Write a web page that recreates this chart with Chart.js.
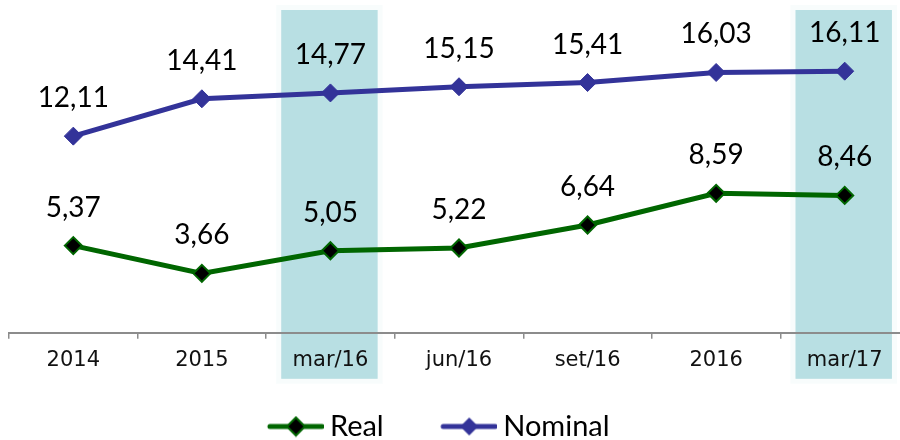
<!DOCTYPE html>
<html>
<head>
<meta charset="utf-8">
<script src="https://cdn.jsdelivr.net/npm/chart.js@4.4.1/dist/chart.umd.min.js"></script>
<style>
  html, body { margin: 0; padding: 0; background: #fff; overflow: hidden; width: 900px; height: 440px; }
  canvas { display: block; }
</style>
</head>
<body>
<canvas id="rateChart" width="912" height="451"></canvas>
<script>
// Chart data
const categories = ['2014', '2015', 'mar/16', 'jun/16', 'set/16', '2016', 'mar/17'];
const realValues = [5.37, 3.66, 5.05, 5.22, 6.64, 8.59, 8.46];
const nominalValues = [12.11, 14.41, 14.77, 15.15, 15.41, 16.03, 16.11];
const highlighted = ['mar/16', 'mar/17'];

const GREEN = '#006600';
const BLUE = '#333399';
const BAND = '#b8dfe3';

// legend icon: line with a diamond, drawn on a small canvas
function makeIcon(lineColor, fill, border) {
    const c = document.createElement('canvas');
    c.width = 92;
    c.height = 22;
    const g = c.getContext('2d');
    const x0 = c.width - 56, cx = c.width - 28, cy = 11;
    g.strokeStyle = lineColor;
    g.lineWidth = 5;
    g.lineCap = 'round';
    g.beginPath();
    g.moveTo(x0 + 2, cy);
    g.lineTo(c.width - 2, cy);
    g.stroke();
    g.beginPath();
    g.moveTo(cx - 9, cy);
    g.lineTo(cx, cy - 9);
    g.lineTo(cx + 9, cy);
    g.lineTo(cx, cy + 9);
    g.closePath();
    g.fillStyle = fill;
    g.fill();
    if (border) {
        g.strokeStyle = border;
        g.lineWidth = 2;
        g.stroke();
    }
    return c;
}
const icons = [makeIcon(GREEN, '#000', GREEN), makeIcon(BLUE, BLUE, null)];

// shaded columns behind highlighted months
const bandPlugin = {
    id: 'bands',
    beforeDraw(chart) {
        const { ctx, chartArea, scales: { x } } = chart;
        const w = (x.getPixelForValue(1) - x.getPixelForValue(0)) * 0.75;
        const top = chartArea.top + 2;
        const bottom = chartArea.bottom + 46;
        ctx.save();
        highlighted.forEach(label => {
            const cx = x.getPixelForValue(categories.indexOf(label)) - 1;
            ctx.fillStyle = 'rgba(184,223,227,0.1)';
            ctx.fillRect(cx - w / 2 - 5, top - 5, w + 10, bottom - top + 10);
            ctx.fillStyle = BAND;
            ctx.fillRect(cx - w / 2, top, w, bottom - top);
        });
        ctx.restore();
    }
};

// value labels above each point (comma decimals)
const valueLabels = {
    id: 'valueLabels',
    afterDatasetsDraw(chart) {
        const { ctx } = chart;
        ctx.save();
        ctx.font = '28px Lato';
        ctx.fillStyle = '#000';
        ctx.textAlign = 'center';
        ctx.textBaseline = 'alphabetic';
        chart.data.datasets.forEach((ds, i) => {
            chart.getDatasetMeta(i).data.forEach((pt, j) => {
                const txt = ds.data[j].toFixed(2).replace('.', ',');
                ctx.fillText(txt, pt.x, pt.y - 29);
            });
        });
        ctx.restore();
    }
};

// nudge the legend a bit to the left, as in the source
const legendShift = {
    id: 'legendShift',
    afterLayout(chart) {
        chart.legend.left -= 34;
        chart.legend.right -= 34;
    }
};

const ctx = document.getElementById('rateChart').getContext('2d');
new Chart(ctx, {
    type: 'line',
    data: {
        labels: categories,
        datasets: [{
            label: 'Real',
            data: realValues,
            borderColor: GREEN,
            borderWidth: 5,
            pointStyle: 'rectRot',
            pointRadius: 8.5,
            pointBackgroundColor: '#000',
            pointBorderColor: GREEN,
            pointBorderWidth: 2,
            tension: 0
        }, {
            label: 'Nominal',
            data: nominalValues,
            borderColor: BLUE,
            borderWidth: 5,
            pointStyle: 'rectRot',
            pointRadius: 9,
            pointBackgroundColor: BLUE,
            pointBorderColor: BLUE,
            pointBorderWidth: 1,
            tension: 0
        }]
    },
    options: {
        responsive: false,
        animation: false,
        devicePixelRatio: 1,
        layout: { autoPadding: false, padding: { left: 9, right: 3, top: 8, bottom: 0 } },
        plugins: {
            tooltip: { enabled: false },
            legend: {
                position: 'bottom',
                labels: {
                    usePointStyle: true,
                    pointStyleWidth: 75,
                    padding: 30,
                    color: '#000',
                    font: { family: 'Lato', size: 29 },
                    generateLabels: chart => chart.data.datasets.map((ds, i) => ({
                        text: ds.label,
                        pointStyle: icons[i],
                        fillStyle: ds.borderColor,
                        strokeStyle: ds.borderColor,
                        lineWidth: 0,
                        fontColor: '#000',
                        datasetIndex: i
                    }))
                }
            }
        },
        scales: {
            x: {
                offset: true,
                grid: {
                    offset: true,
                    drawOnChartArea: false,
                    drawTicks: true,
                    tickLength: 6,
                    color: '#8c8c8c',
                    lineWidth: 1.5
                },
                border: { display: true, color: '#8c8c8c', width: 2 },
                ticks: {
                    color: '#111',
                    padding: 9,
                    font: { family: 'DejaVu Sans', size: 21 }
                }
            },
            y: {
                display: false,
                min: 0,
                max: 20
            }
        }
    },
    plugins: [bandPlugin, valueLabels, legendShift]
});
</script>
</body>
</html>
